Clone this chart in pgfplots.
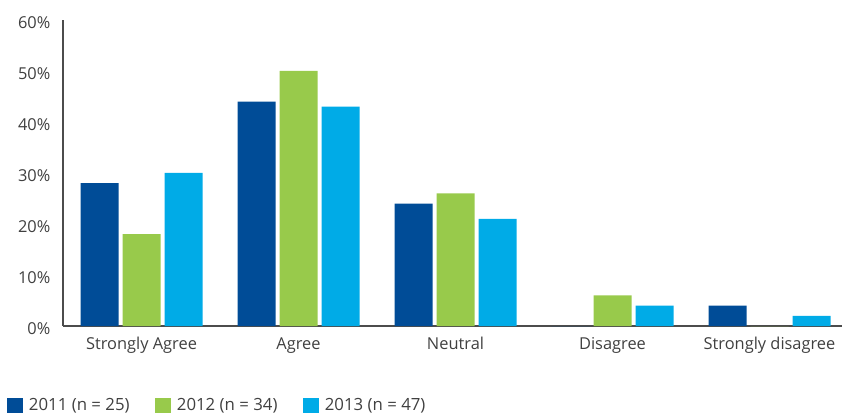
\documentclass[border=0pt]{standalone}
\usepackage{fontspec}
\setmainfont{Open Sans}
\usepackage{pgfplots}
\pgfplotsset{compat=1.18}
\definecolor{c11}{HTML}{004C97}
\definecolor{c12}{HTML}{98CA4B}
\definecolor{c13}{HTML}{00ABE7}
\definecolor{txt}{HTML}{404040}
\pgfplotsset{sqleg/.style={legend image code/.code={\fill[##1,draw=none] (0pt,-5.7pt) rectangle (12pt,5.7pt);}}}
\begin{document}
\begin{tikzpicture}
\begin{axis}[
  x=117.75pt, y=3.825pt,
  xmin=-0.5, xmax=4.47, ymin=0, ymax=60,
  axis lines=left,
  axis line style={-, draw=black!70, line width=0.9pt},
  ybar=3pt, bar width=28.5pt,
  xtick={0,1,2,3,4},
  xticklabels={Strongly Agree,Agree,Neutral,Disagree,Strongly disagree},
  ytick={0,10,...,60},
  yticklabel={\pgfmathprintnumber{\tick}\%},
  /pgf/number format/assume math mode=true,
  major tick length=0pt,
  tick label style={font=\fontsize{12.3}{14}\selectfont, text=txt},
  xticklabel style={yshift=-5pt},
  yticklabel style={xshift=-6pt, yshift=-2pt},
  clip=false,
  legend columns=3,
  legend style={draw=none, fill=none, inner sep=0pt, outer sep=0pt,
    at={([xshift=-42pt,yshift=-59.6pt]rel axis cs:0,0)}, anchor=west,
    font=\fontsize{12.6}{14}\selectfont, text=txt,
    /tikz/every odd column/.style={column sep=1.5pt},
    /tikz/every even column/.style={column sep=16pt},
    nodes={inner xsep=3pt}},
  legend cell align=left,
]
\addplot[fill=c11, draw=none, sqleg] coordinates {(0,28) (1,44) (2,24) (3,0) (4,4)};
\addplot[fill=c12, draw=none, sqleg] coordinates {(0,18) (1,50) (2,26) (3,6) (4,0)};
\addplot[fill=c13, draw=none, sqleg] coordinates {(0,30) (1,43) (2,21) (3,4) (4,2)};
\legend{2011 (n = 25),2012 (n = 34),2013 (n = 47)}
\end{axis}
\pgfresetboundingbox
\path[use as bounding box] (-47.25pt,-66.75pt) rectangle (584.25pt,244.5pt);
\end{tikzpicture}
\end{document}
